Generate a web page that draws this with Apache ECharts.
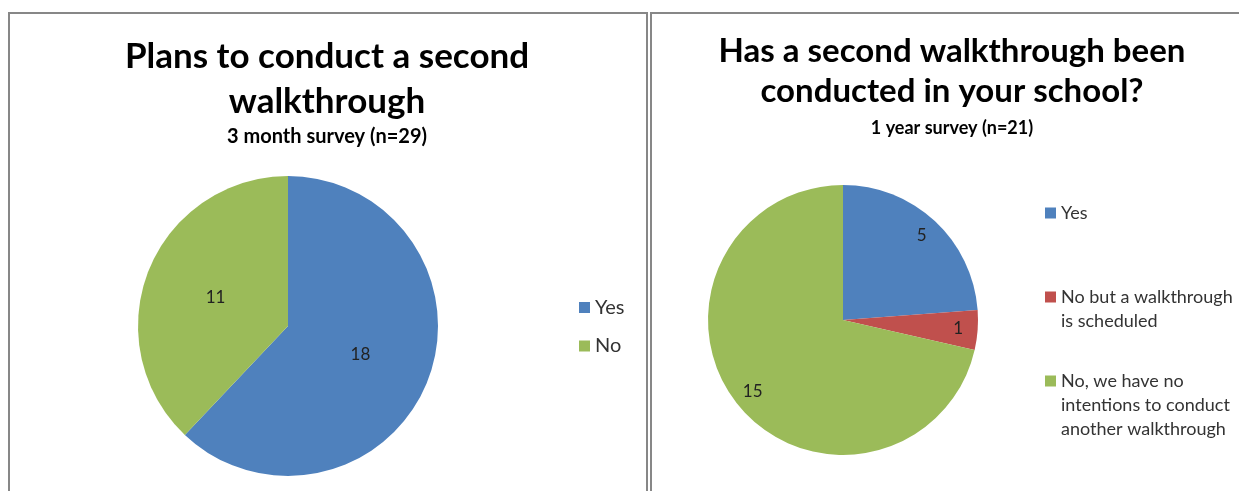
<!DOCTYPE html>
<html>
<head>
<meta charset="utf-8">
<script src="https://cdn.jsdelivr.net/npm/echarts@6/dist/echarts.min.js"></script>
<style>
html,body{margin:0;padding:0;background:#fff;}
#chart{width:1239px;height:491px;}
</style>
</head>
<body>
<div id="chart"></div>
<script>
// ---- data ----
var leftTitle = 'Plans to conduct a second\nwalkthrough';
var leftSubtitle = '3 month survey (n=29)';
var leftCategories = ['Yes', 'No'];
var leftValues = [18, 11];

var rightTitle = 'Has a second walkthrough been\nconducted in your school?';
var rightSubtitle = '1 year survey (n=21)';
var rightCategories = ['Yes', 'No but a walkthrough is scheduled', 'No, we have no intentions to conduct another walkthrough'];
var rightValues = [5, 1, 15];
var rightLegendLabels = ['Yes', 'No but a walkthrough\nis scheduled', 'No, we have no\nintentions to conduct\nanother walkthrough'];

// ---- styles ----
var FONT = 'Lato, "Open Sans", sans-serif';
var leftColors = ['#4F81BD', '#9BBB59'];
var rightColors = ['#4F81BD', '#C0504D', '#9BBB59'];

function toData(cats, vals, colors) {
  return cats.map(function (c, i) {
    return { name: c, value: vals[i], itemStyle: { color: colors[i] } };
  });
}

// legend text: leading blank lines keep the marker level with the first text line
function alignFirstLine(label) {
  var n = label.split('\n').length;
  return new Array(n).join('\n') + label;
}

var chart = echarts.init(document.getElementById('chart'));

var rightLegendTops = [201, 261, 321];
var rightLegends = rightCategories.map(function (cat, i) {
  return {
    orient: 'vertical',
    left: 1045,
    top: rightLegendTops[i],
    padding: 0,
    itemWidth: 11,
    itemHeight: 11,
    icon: 'rect',
    selectedMode: false,
    data: [cat],
    formatter: function (name) {
      return alignFirstLine(rightLegendLabels[rightCategories.indexOf(name)]);
    },
    textStyle: {
      fontFamily: FONT,
      fontSize: 18,
      color: '#333',
      lineHeight: 24
    }
  };
});

var option = {
  backgroundColor: '#fff',
  animation: false,
  graphic: [
    { type: 'rect', shape: { x: 9, y: 13, width: 638, height: 520 }, style: { fill: 'none', stroke: '#878787', lineWidth: 2 }, silent: true },
    { type: 'rect', shape: { x: 651, y: 13, width: 620, height: 520 }, style: { fill: 'none', stroke: '#878787', lineWidth: 2 }, silent: true }
  ],
  title: [
    {
      text: leftTitle,
      subtext: leftSubtitle,
      left: 327,
      top: 34,
      padding: 0,
      textAlign: 'center',
      textVerticalAlign: 'top',
      itemGap: 2,
      textStyle: { fontFamily: FONT, fontSize: 35, fontWeight: 'bold', color: '#000', lineHeight: 45 },
      subtextStyle: { fontFamily: FONT, fontSize: 20, fontWeight: 'bold', color: '#000', lineHeight: 22 }
    },
    {
      text: rightTitle,
      subtext: rightSubtitle,
      left: 952,
      top: 31,
      padding: 0,
      textAlign: 'center',
      textVerticalAlign: 'top',
      itemGap: 7,
      textStyle: { fontFamily: FONT, fontSize: 33, fontWeight: 'bold', color: '#000', lineHeight: 40 },
      subtextStyle: { fontFamily: FONT, fontSize: 18, fontWeight: 'bold', color: '#000', lineHeight: 20 }
    }
  ],
  legend: [
    {
      orient: 'vertical',
      left: 579,
      top: 297.5,
      padding: 0,
      itemWidth: 11,
      itemHeight: 11,
      itemGap: 18.5,
      icon: 'rect',
      selectedMode: false,
      data: leftCategories,
      textStyle: { fontFamily: FONT, fontSize: 20, color: '#333', lineHeight: 20 }
    }
  ].concat(rightLegends),
  series: [
    {
      type: 'pie',
      center: [288, 326],
      radius: [0, 150],
      startAngle: 90,
      clockwise: true,
      silent: true,
      itemStyle: { borderWidth: 0 },
      label: { show: true, position: 'inside', fontFamily: FONT, fontSize: 17, color: '#222', formatter: '{c}' },
      labelLine: { show: false },
      emphasis: { disabled: true },
      data: toData(leftCategories, leftValues, leftColors)
    },
    {
      type: 'pie',
      center: [843, 320],
      radius: [0, 135],
      startAngle: 90,
      clockwise: true,
      silent: true,
      itemStyle: { borderWidth: 0 },
      label: { show: false },
      labelLine: { show: false },
      emphasis: { disabled: true },
      data: toData(rightCategories, rightValues, rightColors)
    },
    {
      type: 'pie',
      center: [843, 320],
      radius: [90, 135],
      startAngle: 90,
      clockwise: true,
      silent: true,
      legendHoverLink: false,
      itemStyle: { color: 'rgba(0,0,0,0)', borderWidth: 0 },
      label: { show: true, position: 'inside', fontFamily: FONT, fontSize: 17, color: '#222', formatter: '{c}' },
      labelLine: { show: false },
      emphasis: { disabled: true },
      data: rightCategories.map(function (c, i) { return { name: c, value: rightValues[i] }; })
    }
  ]
};

chart.setOption(option);
</script>
</body>
</html>
